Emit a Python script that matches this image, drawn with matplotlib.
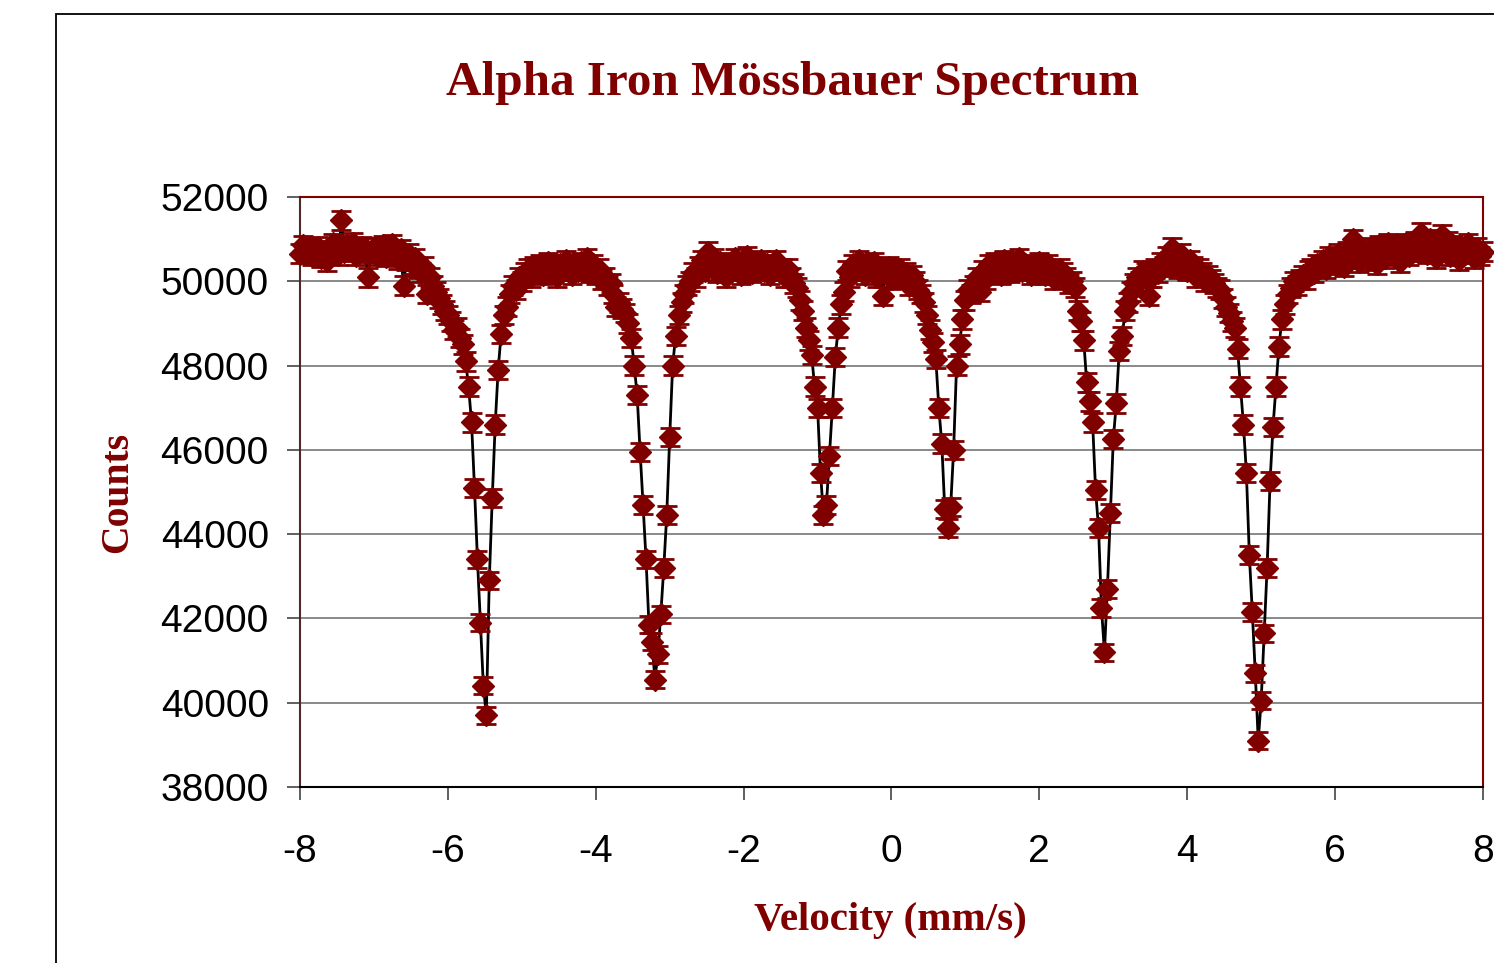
import numpy as np
import matplotlib
matplotlib.use("Agg")
import matplotlib.pyplot as plt
from matplotlib.patches import Rectangle

plt.rcParams['axes.unicode_minus'] = False

# velocity channels (mm/s), 0.04 mm/s step from -8 to 8
velocity = np.round(np.linspace(-8.0, 8.0, 401), 2)

# counts per channel (rows of 10 channels)
counts = np.array([
    50650, 50850, 50700, 50780, 50600, 50720, 50820, 50560, 50700, 50480,   # -8.00
    50650, 50900, 50750, 50620, 51450, 50700, 50850, 50780, 50920, 50600,   # -7.60
    50750, 50820, 50680, 50100, 50700, 50800, 50600, 50720, 50850, 50580,   # -7.20
    50700, 50880, 50640, 50520, 50760, 49900, 50500, 50650, 50400, 50550,   # -6.80
    50300, 50200, 50350, 49700, 50100, 49900, 49750, 49600, 49450, 49300,   # -6.40
    49200, 49050, 48850, 48900, 48650, 48500, 48100, 47500, 46650, 45100,   # -6.00
    43400, 41900, 40400, 39700, 42900, 44850, 46600, 47900, 48750, 49200,   # -5.60
    49400, 49700, 49900, 49800, 50100, 50000, 50200, 50300, 50100, 50350,   # -5.20
    50200, 50400, 50150, 50300, 50450, 50200, 50350, 50100, 50400, 50250,   # -4.80
    50500, 50300, 50150, 50400, 50250, 50450, 50300, 50550, 50200, 50400,   # -4.40
    50150, 50300, 50050, 50100, 49900, 49950, 49700, 49400, 49500, 49350,   # -4.00
    49250, 49000, 48650, 48000, 47300, 45950, 44700, 43400, 41850, 41450,   # -3.60
    40550, 41150, 42100, 43200, 44450, 46300, 48000, 48700, 49200, 49500,   # -3.20
    49700, 49900, 50000, 50200, 50100, 50350, 50500, 50250, 50700, 50400,   # -2.80
    50550, 50200, 50450, 50300, 50100, 50400, 50250, 50550, 50350, 50150,   # -2.40
    50400, 50600, 50300, 50200, 50450, 50300, 50500, 50250, 50400, 50150,   # -2.00
    50350, 50500, 50250, 50300, 50100, 50300, 50100, 49950, 49850, 49550,   # -1.60
    49300, 48900, 48600, 48250, 47500, 47000, 45450, 44450, 44700, 45850,   # -1.20
    47000, 48200, 48900, 49450, 49750, 50250, 50100, 50400, 50250, 50500,   # -0.80
    50300, 50150, 50400, 50250, 50450, 50100, 50300, 49650, 50200, 50350,   # -0.40
    50050, 50250, 50150, 50300, 50100, 50200, 49900, 50150, 50000, 49800,   # 0.00
    49700, 49500, 49200, 48850, 48550, 48150, 47000, 46150, 44600, 44150,   # 0.40
    44650, 46000, 48000, 48500, 49100, 49550, 49800, 49700, 49900, 50100,   # 0.80
    49750, 50250, 50050, 50400, 50200, 50450, 50300, 50150, 50500, 50350,   # 1.20
    50200, 50450, 50300, 50550, 50250, 50400, 50300, 50150, 50350, 50200,   # 1.60
    50450, 50300, 50150, 50400, 50200, 50050, 50150, 50300, 50200, 50100,   # 2.00
    49950, 50000, 49850, 49300, 49050, 48600, 47600, 47150, 46650, 45050,   # 2.40
    44150, 42250, 41200, 42700, 44500, 46250, 47100, 48350, 48700, 49300,   # 2.80
    49500, 49750, 49950, 50100, 50000, 50250, 50200, 49650, 50100, 50300,   # 3.20
    50200, 50450, 50350, 50600, 50400, 50800, 50500, 50300, 50650, 50450,   # 3.60
    50250, 50500, 50350, 50100, 50300, 50200, 50000, 50150, 50050, 49950,   # 4.00
    49850, 49800, 49600, 49400, 49250, 49050, 48900, 48400, 47500, 46600,   # 4.40
    45450, 43500, 42150, 40700, 39100, 40050, 41650, 43200, 45250, 46550,   # 4.80
    47500, 48450, 49100, 49450, 49700, 49850, 50000, 49900, 50050, 50150,   # 5.20
    50050, 50250, 50300, 50200, 50400, 50350, 50500, 50300, 50600, 50450,   # 5.60
    50400, 50650, 50500, 50350, 50700, 50550, 51000, 50600, 50450, 50750,   # 6.00
    50600, 50500, 50800, 50650, 50400, 50850, 50700, 50550, 50900, 50750,   # 6.40
    50600, 50850, 50450, 50700, 50900, 50600, 50800, 50950, 50700, 51150,   # 6.80
    50850, 50650, 51000, 50800, 50550, 50900, 51100, 50700, 50950, 50600,   # 7.20
    50850, 50700, 50500, 50800, 50650, 50900, 50700, 50550, 50800, 50600,   # 7.60
    50700,                                                                  # 8.00
], dtype=float)

x_ticks = [-8, -6, -4, -2, 0, 2, 4, 6, 8]
y_ticks = [38000, 40000, 42000, 44000, 46000, 48000, 50000, 52000]

maroon = '#800000'
W, H = 1494, 963

fig = plt.figure(figsize=(W / 100, H / 100), dpi=100)
ax = fig.add_axes([300 / W, 1 - 787 / H, 1183 / W, 590 / H])

# fit line under the points
ax.plot(velocity, counts, color='black', lw=2, zorder=2)

# data with Poisson error bars
eb = ax.errorbar(velocity, counts, yerr=np.sqrt(counts), fmt='D', color=maroon,
                 mec=maroon, ms=11, capsize=7.2, capthick=2, elinewidth=1.5,
                 zorder=3)
for a in eb.get_children():
    a.set_clip_on(False)

ax.set_xlim(-8, 8)
ax.set_ylim(38000, 52000)
ax.set_xticks(x_ticks)
ax.set_xticklabels([str(t) for t in x_ticks])
ax.set_yticks(y_ticks)
ax.set_yticklabels([str(t) for t in y_ticks])

for lab in ax.get_xticklabels() + ax.get_yticklabels():
    lab.set_fontfamily('Liberation Sans')
    lab.set_fontsize(28)
ax.tick_params(axis='y', direction='out', length=9.5, width=1.2, color='#444444', pad=13)
ax.tick_params(axis='x', direction='out', length=9.5, width=1.2, color='#444444', pad=24)

ax.grid(axis='y', color='#808080', lw=1.3)
ax.set_axisbelow(True)

ax.spines['top'].set_color(maroon)
ax.spines['right'].set_color(maroon)
ax.spines['left'].set_color('#502828')
ax.spines['bottom'].set_color('black')
for s in ax.spines.values():
    s.set_linewidth(1.5)

serif = dict(family='Liberation Serif', weight='bold', color=maroon)
fig.text(793 / W, 1 - 95 / H, 'Alpha Iron Mössbauer Spectrum', ha='center',
         va='baseline', fontsize=35.4, **serif)
fig.text(890 / W, 1 - 930 / H, 'Velocity (mm/s)', ha='center', va='baseline',
         fontsize=29.5, **serif)
fig.text(118 / W, 1 - 492 / H, 'Counts', ha='center', va='center', rotation=90,
         fontsize=28.5, **serif)

# outer chart border
fig.add_artist(Rectangle((56 / W, -0.1), 1.2, 1 - 14 / H + 0.1,
                         transform=fig.transFigure, fill=False,
                         edgecolor='black', lw=1.3))

fig.savefig('out.png', dpi=100)
